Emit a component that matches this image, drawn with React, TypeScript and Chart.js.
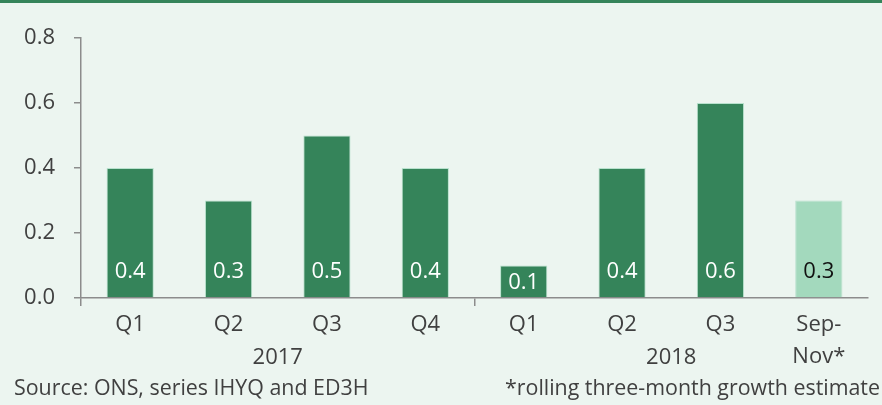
import React, { useEffect, useRef } from "react";
import { Chart, registerables } from "chart.js";

Chart.register(...registerables);

// ---- data ----
const categories: (string | string[])[] = ["Q1", "Q2", "Q3", "Q4", "Q1", "Q2", "Q3", ["Sep-", "Nov*"]];
const values = [0.4, 0.3, 0.5, 0.4, 0.1, 0.4, 0.6, 0.3];
const isEstimate = [false, false, false, false, false, false, false, true];
const yearLabels = ["2017", "2018"];
const yearStart = [0, 4];
const yearEnd = [3, 7];
const yMin = 0;
const yMax = 0.8;
const yStep = 0.2;
const sourceNote = "Source: ONS, series IHYQ and ED3H";
const estimateNote = "*rolling three-month growth estimate";

// ---- style ----
const BG = "#ecf5f0";
const GREEN = "#35845a";
const LIGHT = "#a3d9bd";
const AXIS = "#8c8c8c";
const TEXT = "#404040";
const FONT = "'Open Sans', sans-serif";
const FS = 22;
const NOTE_FS = 21.4;
const LH = 1.45;
const X_TICK_LEN = 8;
const X_PAD = 3;

const decorPlugin = {
  id: "decor",
  beforeDraw(chart: any) {
    const { ctx, width, height } = chart;
    ctx.save();
    ctx.fillStyle = BG;
    ctx.fillRect(0, 0, width, height);
    ctx.fillStyle = GREEN;
    ctx.fillRect(0, 0, width, 3);
    ctx.restore();
  },
  afterDatasetsDraw(chart: any) {
    const { ctx } = chart;
    const meta = chart.getDatasetMeta(0);
    ctx.save();
    ctx.font = `${FS}px ${FONT}`;
    ctx.textAlign = "center";
    ctx.textBaseline = "middle";
    meta.data.forEach((bar: any, i: number) => {
      const y = Math.max(bar.base - 26, bar.y + 17);
      ctx.fillStyle = isEstimate[i] ? "#111111" : "#ffffff";
      ctx.fillText(values[i].toFixed(1), bar.x, y);
    });
    ctx.restore();
  },
  afterDraw(chart: any) {
    const { ctx, width } = chart;
    const xs = chart.scales.x;
    const lineH = FS * LH;
    const yearY = xs.top + X_TICK_LEN + X_PAD + lineH / 2 + lineH;
    ctx.save();
    ctx.font = `${FS}px ${FONT}`;
    ctx.fillStyle = TEXT;
    ctx.textBaseline = "middle";
    ctx.textAlign = "center";
    yearLabels.forEach((lab, g) => {
      const cx = (xs.getPixelForValue(yearStart[g]) + xs.getPixelForValue(yearEnd[g])) / 2;
      ctx.fillText(lab, cx, yearY + 1);
    });
    const noteY = yearY + 32;
    ctx.font = `${NOTE_FS}px ${FONT}`;
    ctx.textAlign = "left";
    ctx.fillText(sourceNote, 14, noteY);
    ctx.textAlign = "right";
    ctx.fillText(estimateNote, width - 2, noteY);
    ctx.restore();
  },
};

export default function App() {
  const ref = useRef<HTMLCanvasElement | null>(null);
  useEffect(() => {
    document.body.style.margin = "0";
    const chart = new Chart(ref.current as HTMLCanvasElement, {
      type: "bar",
      data: {
        labels: categories as any,
        datasets: [
          {
            data: values,
            backgroundColor: isEstimate.map((e) => (e ? LIGHT : GREEN)),
            borderColor: "rgba(163,217,189,0.7)",
            borderWidth: 1,
            barPercentage: 0.48,
            categoryPercentage: 1,
          },
        ],
      },
      options: {
        animation: false,
        responsive: true,
        maintainAspectRatio: false,
        layout: { padding: { top: 38, right: 14, bottom: 0, left: 0 } },
        plugins: { legend: { display: false }, tooltip: { enabled: false } },
        scales: {
          x: {
            afterFit: (s: any) => {
              s.height = 107;
            },
            grid: {
              offset: true,
              drawOnChartArea: false,
              drawTicks: true,
              tickLength: X_TICK_LEN,
              lineWidth: 1.5,
              color: (c: any) => ([0, 4, 8].includes(c.index) ? AXIS : "rgba(0,0,0,0)"),
            },
            border: { display: true, color: AXIS, width: 1.5 },
            ticks: {
              color: TEXT,
              padding: X_PAD,
              maxRotation: 0,
              autoSkip: false,
              font: { family: FONT, size: FS, lineHeight: LH },
            },
          },
          y: {
            min: yMin,
            max: yMax,
            afterFit: (s: any) => {
              s.width = 81;
            },
            grid: {
              drawOnChartArea: false,
              drawTicks: true,
              tickLength: 7,
              lineWidth: 1.5,
              color: AXIS,
            },
            border: { display: true, color: AXIS, width: 1.5 },
            ticks: {
              stepSize: yStep,
              color: TEXT,
              padding: 19,
              font: { family: FONT, size: FS },
              callback: (v: any) => Number(v).toFixed(1),
            },
          },
        },
      },
      plugins: [decorPlugin],
    });
    return () => chart.destroy();
  }, []);
  return (
    <div style={{ width: 882, height: 405, position: "relative" }}>
      <canvas ref={ref} />
    </div>
  );
}
